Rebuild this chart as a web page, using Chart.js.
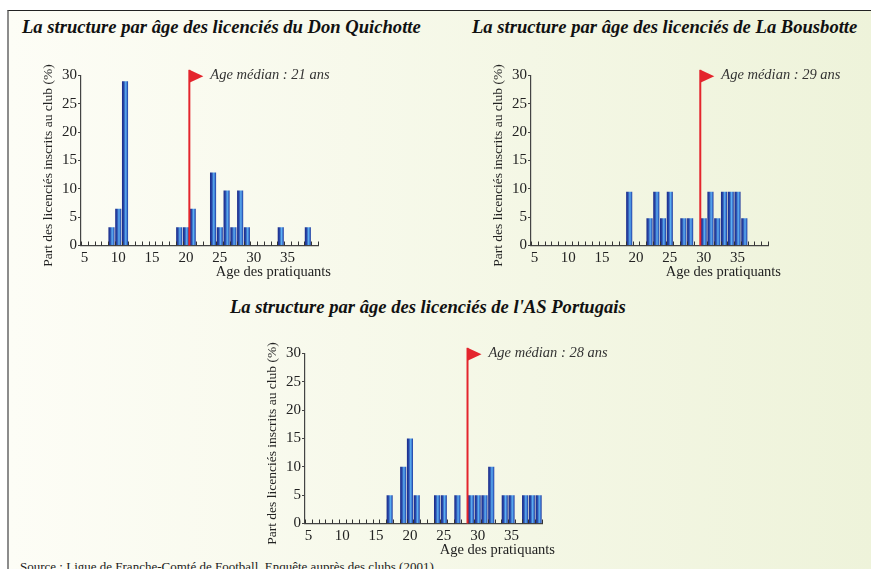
<!DOCTYPE html>
<html>
<head>
<meta charset="utf-8">
<script src="https://cdn.jsdelivr.net/npm/chart.js@4"></script>
<style>
  body { margin: 0; width: 871px; height: 569px; overflow: hidden; background: #fff; position: relative; }
  #frame {
    position: absolute; left: 7px; top: 10px; width: 864px; height: 559px;
    border-left: 2px solid #8c8c8c; border-top: 1px solid #222;
    background: linear-gradient(to right, #fdfdf6, #eef3da);
  }
  .title {
    position: absolute; font: bold italic 18.6px "Liberation Serif", serif;
    color: #111; white-space: nowrap; line-height: 20px;
  }
  .source {
    position: absolute; left: 20px; top: 559px; font: 13px "Liberation Serif", serif;
    color: #222; white-space: nowrap; line-height: 15px;
  }
  canvas { position: absolute; }
</style>
</head>
<body>
<div id="frame"></div>
<div class="title" style="left:22px;top:17px">La structure par âge des licenciés du Don Quichotte</div>
<div class="title" style="left:472px;top:17px">La structure par âge des licenciés de La Bousbotte</div>
<div class="title" style="left:230px;top:297px">La structure par âge des licenciés de l'AS Portugais</div>
<div class="source">Source : Ligue de Franche-Comté de Football, Enquête auprès des clubs (2001)</div>

<canvas id="c1" width="400" height="240" style="left:30px;top:50px"></canvas>
<canvas id="c2" width="400" height="240" style="left:480px;top:50px"></canvas>
<canvas id="c3" width="400" height="240" style="left:254px;top:328px"></canvas>

<script>
// ages on the x axis (one bar per age)
const ages = [5, 6, 7, 8, 9, 10, 11, 12, 13, 14, 15, 16, 17, 18, 19, 20, 21, 22,
  23, 24, 25, 26, 27, 28, 29, 30, 31, 32, 33, 34, 35, 36, 37, 38, 39];

// share of licence holders (%) per age
const quichotte = [0, 0, 0, 0, 3.2, 6.5, 29.0, 0, 0, 0, 0, 0, 0, 0, 3.2, 3.2, 6.5, 0,
  0, 12.9, 3.2, 9.7, 3.2, 9.7, 3.2, 0, 0, 0, 0, 3.2, 0, 0, 0, 3.2, 0];
const bousbotte = [0, 0, 0, 0, 0, 0, 0, 0, 0, 0, 0, 0, 0, 0, 9.5, 0, 0, 4.8,
  9.5, 4.8, 9.5, 0, 4.8, 4.8, 0, 4.8, 9.5, 4.8, 9.5, 9.5, 9.5, 4.8, 0, 0, 0];
const portugais = [0, 0, 0, 0, 0, 0, 0, 0, 0, 0, 0, 0, 5, 0, 10, 15, 5, 0,
  0, 5, 5, 0, 5, 0, 5, 5, 5, 10, 0, 5, 5, 0, 5, 5, 5];

// median as printed, and where the flag stands on the age axis
const medianLabels = [21, 29, 28];
const medianAt = [20.5, 29.5, 28.5];
const yTicks = [0, 5, 10, 15, 20, 25, 30];

const SERIF = '"Liberation Serif", serif';
const BAR_PCT = 0.9;

function barFill(c) {
  const chart = c.chart;
  if (c.type !== 'data' || !chart.chartArea) return '#2f5fc0';
  const x = chart.scales.x;
  const xc = x.getPixelForValue(c.dataIndex);
  const w = x.width / ages.length * BAR_PCT;
  const g = chart.ctx.createLinearGradient(xc - w / 2, 0, xc + w / 2, 0);
  g.addColorStop(0, '#1b2a86');
  g.addColorStop(0.3, '#2746a8');
  g.addColorStop(0.62, '#5cb0f2');
  g.addColorStop(0.85, '#3468c8');
  g.addColorStop(1, '#1e3496');
  return g;
}

// small inner ticks, axis title, median flag
const decor = {
  id: 'decor',
  afterDraw(chart, args, opts) {
    const {ctx, chartArea, scales: {x, y}} = chart;
    ctx.save();
    // minor ticks between ages, pointing up
    ctx.strokeStyle = '#333';
    ctx.lineWidth = 1;
    ctx.beginPath();
    for (let i = 0; i <= ages.length; i++) {
      const px = Math.round(x.getPixelForValue(i - 0.5)) + 0.5;
      ctx.moveTo(px, chartArea.bottom);
      ctx.lineTo(px, chartArea.bottom - 4);
    }
    ctx.stroke();

    // x title, right aligned past the axis end
    ctx.fillStyle = '#222';
    ctx.font = '14.5px ' + SERIF;
    ctx.textAlign = 'right';
    ctx.textBaseline = 'middle';
    ctx.fillText('Age des pratiquants', chartArea.right + 13, chartArea.bottom + 26.5);

    // median flag
    const mx = x.getPixelForValue(opts.at - ages[0]);
    const top = y.getPixelForValue(31);
    ctx.strokeStyle = '#e4252d';
    ctx.fillStyle = '#e4252d';
    ctx.lineWidth = 2;
    ctx.beginPath();
    ctx.moveTo(mx, top);
    ctx.lineTo(mx, y.getPixelForValue(0));
    ctx.stroke();
    ctx.beginPath();
    ctx.moveTo(mx, top);
    ctx.lineTo(mx + 14, top + 6.5);
    ctx.lineTo(mx, top + 13);
    ctx.closePath();
    ctx.fill();

    ctx.fillStyle = '#333';
    ctx.font = 'italic 14.5px ' + SERIF;
    ctx.textAlign = 'left';
    ctx.fillText('Age médian : ' + opts.label + ' ans', mx + 21, top + 5.5);
    ctx.restore();
  }
};

function makeChart(id, values, k) {
  return new Chart(document.getElementById(id), {
    type: 'bar',
    data: {
      labels: ages,
      datasets: [{
        data: values,
        backgroundColor: barFill,
        borderWidth: 0,
        barPercentage: BAR_PCT,
        categoryPercentage: 1
      }]
    },
    options: {
      responsive: false,
      animation: false,
      layout: { padding: { left: 0, top: 25.5, right: 112, bottom: 0 } },
      plugins: {
        legend: { display: false },
        tooltip: { enabled: false },
        decor: { label: medianLabels[k], at: medianAt[k] }
      },
      scales: {
        x: {
          grid: { display: false },
          border: { display: true, color: '#444', width: 1.2 },
          ticks: {
            autoSkip: false,
            maxRotation: 0,
            padding: -4,
            color: '#222',
            font: { family: SERIF, size: 15 },
            callback: function (v, i) {
              return ages[i] % 5 === 0 ? String(ages[i]) : '';
            }
          },
          afterFit: function (s) { s.height = 44.5; }
        },
        y: {
          min: 0,
          max: 30,
          afterBuildTicks: function (s) { s.ticks = yTicks.map(v => ({value: v})); },
          grid: { drawOnChartArea: false, drawTicks: true, tickLength: 3, color: '#444' },
          border: { display: true, color: '#444', width: 1.2 },
          ticks: { padding: 1, color: '#222', font: { family: SERIF, size: 15 } },
          title: {
            display: true,
            text: 'Part des licenciés inscrits au club (%)   ',
            color: '#222',
            font: { family: SERIF, size: 13.5 },
            padding: { top: 10, bottom: 0 }
          },
          afterFit: function (s) { s.width = 51; }
        }
      }
    },
    plugins: [decor]
  });
}

makeChart('c1', quichotte, 0);
makeChart('c2', bousbotte, 1);
makeChart('c3', portugais, 2);
</script>
</body>
</html>
